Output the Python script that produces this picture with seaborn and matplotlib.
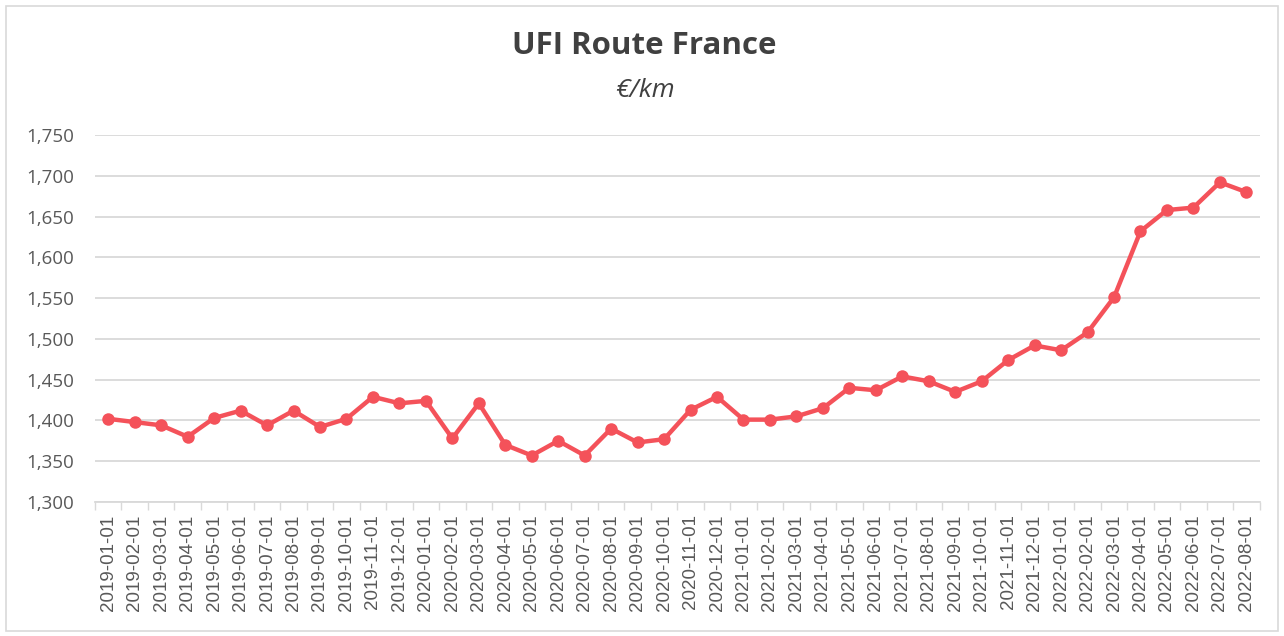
import numpy as np
import pandas as pd
import matplotlib.pyplot as plt
import matplotlib.ticker as mticker
from matplotlib.patches import Rectangle
import seaborn as sns

# monthly dates and UFI road index values (EUR/km)
dates = [f"{y}-{m:02d}-01" for y in range(2019, 2023) for m in range(1, 13)][:44]
values = [1402, 1398, 1394, 1380, 1403, 1412, 1394, 1412, 1392, 1402, 1429, 1421,
          1424, 1378, 1421, 1370, 1357, 1375, 1357, 1390, 1373, 1377, 1413, 1429,
          1401, 1401, 1405, 1415, 1440, 1437, 1454, 1448, 1435, 1448, 1474, 1492,
          1486, 1508, 1551, 1632, 1658, 1661, 1692, 1680]
yticks = [1300, 1350, 1400, 1450, 1500, 1550, 1600, 1650, 1700, 1750]

df = pd.DataFrame({'date': dates, 'value': values})

sns.set_theme(style='white')
plt.rcParams['font.family'] = ['Open Sans', 'DejaVu Sans']

fig = plt.figure(figsize=(12.84, 6.36), dpi=100)
ax = fig.add_axes([0.074, 0.2107, 0.907, 0.577])

# card border
fig.patches.append(Rectangle((0.005, 0.008), 0.99, 0.982, transform=fig.transFigure,
                             fill=False, edgecolor='#D9D9D9', linewidth=1.2))

sns.lineplot(data=df, x='date', y='value', ax=ax, color='#F4525A', linewidth=3.2,
             marker='o', markersize=9, markeredgewidth=0, sort=False)

ax.set_ylim(1300, 1750)
ax.set_xlim(-0.5, len(dates) - 0.5)
ax.set_yticks(yticks)
ax.yaxis.set_major_formatter(mticker.FuncFormatter(lambda v, p: f'{v:,.0f}'))
ax.yaxis.grid(True, color='#D9D9D9', linewidth=1.3)
ax.set_axisbelow(True)

ax.set_xticks(range(len(dates)))
ax.set_xticklabels(dates, rotation=90, fontfamily='Liberation Sans')
ax.set_xticks(np.arange(-0.5, len(dates), 1), minor=True)
ax.tick_params(axis='x', which='major', length=0, pad=9, labelsize=13.5, labelcolor='#595959')
ax.tick_params(axis='x', which='minor', length=6, width=1, color='#D9D9D9', bottom=True)
ax.tick_params(axis='y', length=0, pad=15, labelsize=13.5, labelcolor='#595959')

for s in ['top', 'right', 'left']:
    ax.spines[s].set_visible(False)
ax.spines['bottom'].set_color('#D9D9D9')
ax.spines['bottom'].set_linewidth(1.3)
ax.set_xlabel('')
ax.set_ylabel('')

fig.text(0.502, 0.928, 'UFI Route France', ha='center', va='center', fontsize=22.5,
         fontweight='bold', color='#404040')
fig.text(0.502, 0.858, '€/km', ha='center', va='center', fontsize=19,
         style='italic', color='#404040')

plt.savefig('out.png', dpi=100)
